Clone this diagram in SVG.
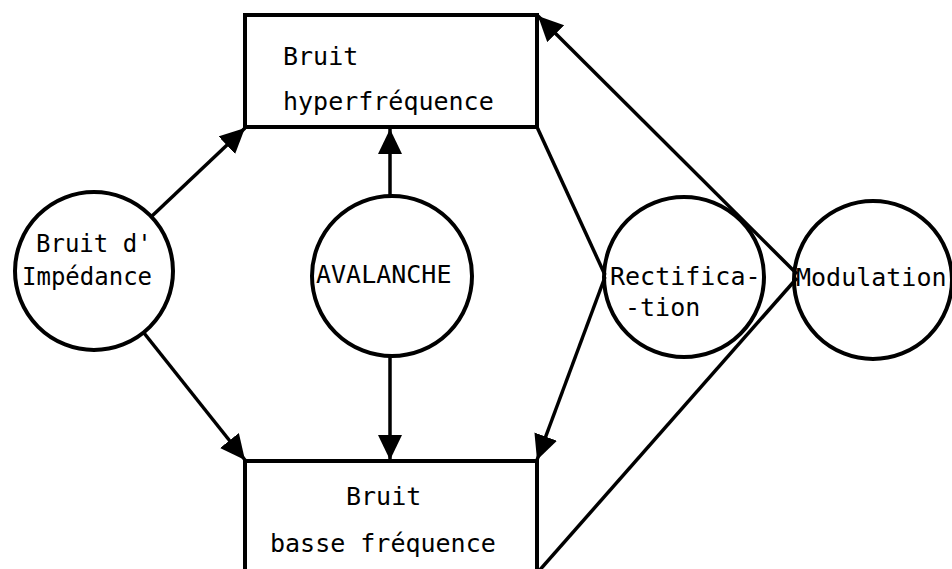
<svg xmlns="http://www.w3.org/2000/svg" width="952" height="569" viewBox="0 0 952 569">
<style>
.shape{fill:none;stroke:#000;stroke-width:4}
.edge{fill:none;stroke:#000;stroke-width:3.5}
.t{font-family:"DejaVu Sans Mono","Liberation Mono",monospace;font-size:25px;fill:#000}
.ts{font-size:24px}
</style>
<defs>
<marker id="arr" markerUnits="userSpaceOnUse" markerWidth="26" markerHeight="26" refX="25" refY="12" orient="auto">
<path d="M0,0 L25,12 L0,24 Z" fill="#000"/>
</marker>
</defs>
<rect width="952" height="569" fill="#fff"/>
<g id="connectors">
<line class="edge" x1="152" y1="216" x2="245" y2="128" marker-end="url(#arr)"/>
<line class="edge" x1="144" y1="333" x2="245" y2="460" marker-end="url(#arr)"/>
<line class="edge" x1="390" y1="196" x2="390" y2="129" marker-end="url(#arr)"/>
<line class="edge" x1="390" y1="356" x2="390" y2="460" marker-end="url(#arr)"/>
<line class="edge" x1="537" y1="127" x2="605" y2="275"/>
<line class="edge" x1="605" y1="277" x2="537" y2="460" marker-end="url(#arr)"/>
<line class="edge" x1="797" y1="274" x2="538" y2="16" marker-end="url(#arr)"/>
<line class="edge" x1="797" y1="278" x2="538" y2="572"/>
</g>
<g id="hyper">
<rect class="shape" x="245" y="15" width="292" height="112"/>
<text class="t" x="283" y="65">Bruit</text>
<text class="t" x="283" y="110">hyperfréquence</text>
</g>
<g id="basse">
<rect class="shape" x="245" y="461" width="292" height="120"/>
<text class="t" x="346" y="505">Bruit</text>
<text class="t" x="270" y="552">basse fréquence</text>
</g>
<g id="impedance">
<circle class="shape" cx="94" cy="271" r="79"/>
<text class="t ts" x="36" y="252">Bruit d'</text>
<text class="t ts" x="22" y="285">Impédance</text>
</g>
<g id="avalanche">
<circle class="shape" cx="392" cy="276" r="80"/>
<text class="t" x="316" y="283">AVALANCHE</text>
</g>
<g id="rectification">
<circle class="shape" cx="684" cy="277" r="80"/>
<text class="t" x="610" y="285">Rectifica-</text>
<text class="t" x="625" y="316">-tion</text>
</g>
<g id="modulation">
<circle class="shape" cx="873" cy="280" r="79"/>
<text class="t" x="796" y="286">Modulation</text>
</g>
</svg>
